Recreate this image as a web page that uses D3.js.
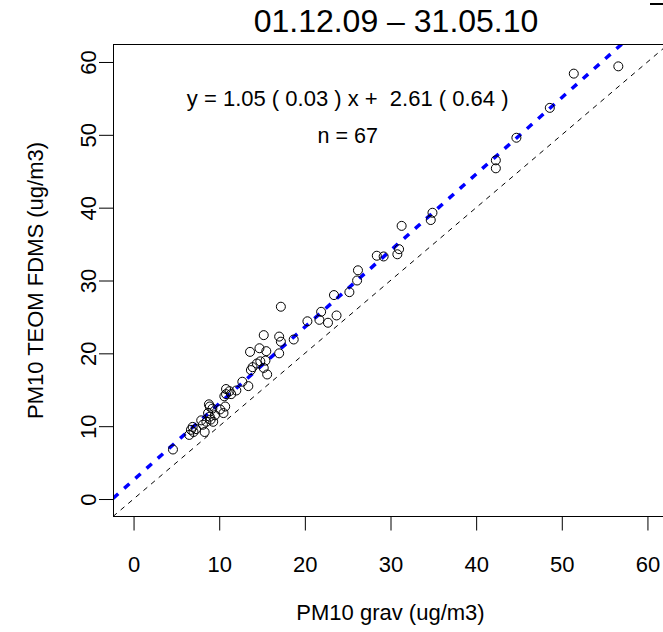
<!DOCTYPE html>
<html>
<head>
<meta charset="utf-8">
<script src="https://cdn.jsdelivr.net/npm/d3@7"></script>
<style>
  body { margin: 0; background: #fff; }
  svg text { font-family: "Liberation Sans", Arial, Helvetica, sans-serif; fill: #000; white-space: pre; }
</style>
</head>
<body>
<div id="chart"><svg></svg></div>
<script>
// PM10 gravimetric vs TEOM FDMS, 01.12.09 - 31.05.10
const gravValues = [
  56.6, 51.4, 48.6, 44.7, 42.3, 42.3, 34.9, 34.7, 31.3,
  31.0, 30.8, 29.2, 28.4, 26.2, 26.1, 25.2, 23.4, 23.7, 21.9, 21.7, 22.7, 20.3, 17.2,
  15.2, 17.0, 17.2, 18.7, 17.0, 13.6, 14.7, 15.5, 15.4, 14.8, 13.9, 13.7, 15.2, 15.6,
  12.7, 13.4, 10.8, 11.2, 10.8, 11.4, 10.6,
  10.7, 10.1, 10.5, 8.8, 8.9, 8.7, 9.0, 9.3, 8.5, 8.3, 6.9, 6.7, 7.0, 6.5, 4.6,
  9.2, 8.9, 8.1, 9.5, 7.9, 7.3, 14.4, 12.0
];
const teomValues = [
  59.4, 58.4, 53.7, 49.6, 46.5, 45.4, 39.3, 38.3, 37.5,
  34.3, 33.6, 33.3, 33.4, 31.4, 30.0, 28.4, 28.0, 25.2, 25.7, 24.6, 24.2, 24.4, 26.4,
  22.5, 22.3, 21.6, 21.9, 20.0, 20.2, 20.7, 20.3, 19.0, 18.9, 18.1, 17.7, 18.0, 17.1,
  16.1, 15.5, 15.1, 14.8, 14.4, 14.4, 14.1,
  12.7, 12.3, 11.8, 13.0, 12.7, 11.8, 10.9, 10.6, 10.6, 9.2, 9.9, 9.5, 9.2, 8.8, 6.8,
  12.4, 11.3, 10.2, 11.5, 10.8, 9.6, 18.6, 14.9
];
const xTicks = [0, 10, 20, 30, 40, 50, 60];
const yTicks = [0, 10, 20, 30, 40, 50, 60];
const fitSlope = 1.05;
const fitIntercept = 2.61;
const titleText = "01.12.09 \u2013 31.05.10";
const eqText = "y = 1.05 ( 0.03 ) x +  2.61 ( 0.64 )";
const nText = "n = " + gravValues.length;

const width = 663, height = 632;
const box = { left: 113, right: 668, top: 44.5, bottom: 516.5 };

const svg = d3.select("#chart svg")
  .attr("width", width)
  .attr("height", height);

const x = d3.scaleLinear().domain([-2.4, 62.4]).range([box.left, box.right]);
const y = d3.scaleLinear().domain([-2.4, 62.4]).range([box.bottom, box.top]);

svg.append("clipPath")
  .attr("id", "plot-clip")
  .append("rect")
  .attr("x", box.left)
  .attr("y", box.top)
  .attr("width", box.right - box.left)
  .attr("height", box.bottom - box.top);

const plot = svg.append("g").attr("clip-path", "url(#plot-clip)");

// 1:1 line
plot.append("line")
  .attr("x1", x(-2.4)).attr("y1", y(-2.4))
  .attr("x2", x(62.4)).attr("y2", y(62.4))
  .attr("stroke", "#000")
  .attr("stroke-width", 1)
  .attr("stroke-dasharray", "5,5");

// regression line
plot.append("line")
  .attr("x1", x(-2.4)).attr("y1", y(fitIntercept + fitSlope * -2.4))
  .attr("x2", x(62.4)).attr("y2", y(fitIntercept + fitSlope * 62.4))
  .attr("stroke", "#0000ff")
  .attr("stroke-width", 3.5)
  .attr("stroke-dasharray", "7,8");

const points = gravValues.map((g, i) => ({ grav: g, teom: teomValues[i] }));

plot.selectAll("circle")
  .data(points)
  .enter()
  .append("circle")
  .attr("cx", (d) => x(d.grav))
  .attr("cy", (d) => y(d.teom))
  .attr("r", 4.5)
  .attr("fill", "none")
  .attr("stroke", "#000")
  .attr("stroke-width", 1);

// frame
svg.append("rect")
  .attr("x", box.left + 0.5)
  .attr("y", box.top)
  .attr("width", box.right - box.left)
  .attr("height", box.bottom - box.top)
  .attr("fill", "none")
  .attr("stroke", "#000")
  .attr("stroke-width", 1);

const xAxis = svg.append("g")
  .attr("transform", `translate(0,${box.bottom})`)
  .call(d3.axisBottom(x).tickValues(xTicks).tickSize(14).tickPadding(26).tickFormat(d3.format("d")));
xAxis.select(".domain").remove();
xAxis.selectAll("line").attr("stroke", "#000");
xAxis.selectAll("text")
  .attr("font-size", 22)
  .style("font-family", "Liberation Sans, Arial, sans-serif");

const yAxis = svg.append("g")
  .attr("transform", `translate(${box.left},0)`)
  .call(d3.axisLeft(y).tickValues(yTicks).tickSize(14).tickFormat(d3.format("d")));
yAxis.select(".domain").remove();
yAxis.selectAll("line").attr("stroke", "#000");
yAxis.selectAll("text")
  .attr("x", null)
  .attr("dy", null)
  .attr("text-anchor", "middle")
  .attr("transform", "translate(-17,0) rotate(-90)")
  .attr("font-size", 22)
  .style("font-family", "Liberation Sans, Arial, sans-serif");

svg.append("text")
  .attr("x", (box.left + box.right) / 2)
  .attr("y", 620)
  .attr("text-anchor", "middle")
  .attr("font-size", 22)
  .text("PM10 grav (ug/m3)");

svg.append("text")
  .attr("transform", `translate(43,${(box.top + box.bottom) / 2}) rotate(-90)`)
  .attr("text-anchor", "middle")
  .attr("font-size", 22)
  .text("PM10 TEOM FDMS (ug/m3)");

svg.append("text")
  .attr("x", 396)
  .attr("y", 32)
  .attr("text-anchor", "middle")
  .attr("font-size", 32)
  .text(titleText);

svg.append("text")
  .attr("x", x(25))
  .attr("y", y(55))
  .attr("dy", "0.36em")
  .attr("text-anchor", "middle")
  .attr("font-size", 22)
  .text(eqText);

svg.append("text")
  .attr("x", x(25))
  .attr("y", y(50))
  .attr("dy", "0.36em")
  .attr("text-anchor", "middle")
  .attr("font-size", 21.5)
  .text(nText);

// small clipped mark at the top right edge
svg.append("rect")
  .attr("x", 650)
  .attr("y", 3)
  .attr("width", 13)
  .attr("height", 2)
  .attr("fill", "#000");
</script>
</body>
</html>
